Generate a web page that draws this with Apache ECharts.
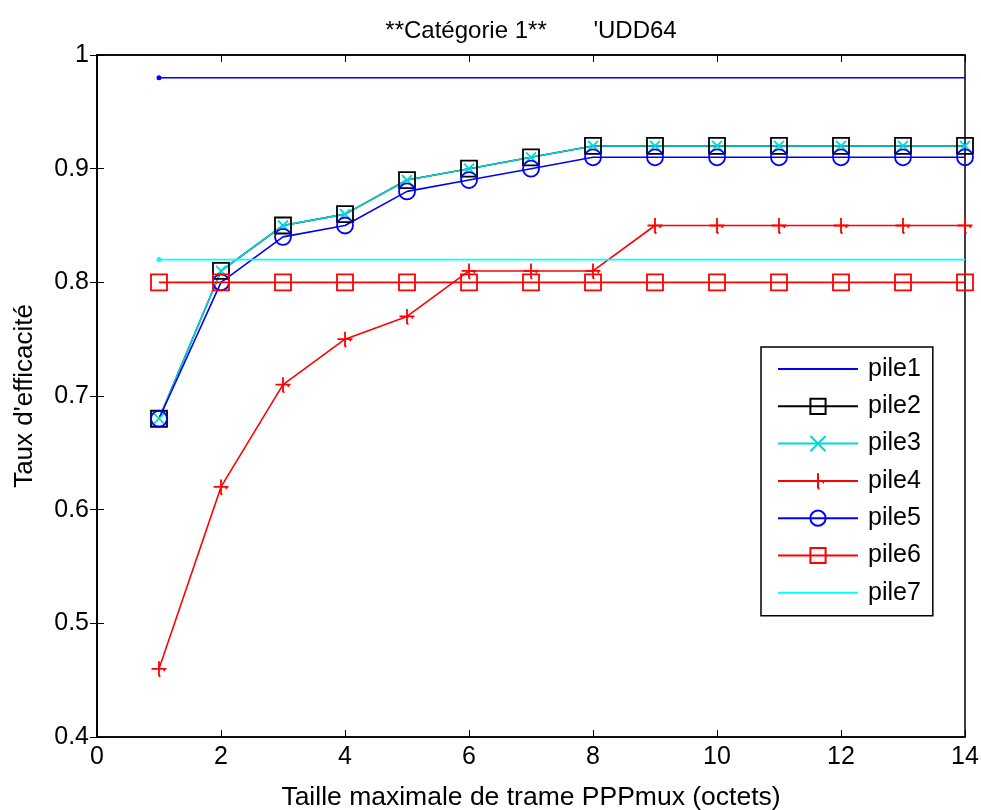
<!DOCTYPE html>
<html><head><meta charset="utf-8">
<script src="https://cdn.jsdelivr.net/npm/echarts@6/dist/echarts.min.js"></script>
<style>html,body{margin:0;padding:0;background:#fff}#c{width:981px;height:810px}</style>
</head><body><div id="c"></div>
<script>
const xValues = [1,2,3,4,5,6,7,8,9,10,11,12,13,14];
const pile1 = [0.98,0.98,0.98,0.98,0.98,0.98,0.98,0.98,0.98,0.98,0.98,0.98,0.98,0.98];
const pile2 = [0.68,0.81,0.85,0.86,0.89,0.90,0.91,0.92,0.92,0.92,0.92,0.92,0.92,0.92];
const pile3 = [0.68,0.81,0.85,0.86,0.89,0.90,0.91,0.92,0.92,0.92,0.92,0.92,0.92,0.92];
const pile4 = [0.46,0.62,0.71,0.75,0.77,0.81,0.81,0.81,0.85,0.85,0.85,0.85,0.85,0.85];
const pile5 = [0.68,0.80,0.84,0.85,0.88,0.89,0.90,0.91,0.91,0.91,0.91,0.91,0.91,0.91];
const pile6 = [0.80,0.80,0.80,0.80,0.80,0.80,0.80,0.80,0.80,0.80,0.80,0.80,0.80,0.80];
const pile7 = [0.82,0.82,0.82,0.82,0.82,0.82,0.82,0.82,0.82,0.82,0.82,0.82,0.82,0.82];
const seriesNames = ['pile1','pile2','pile3','pile4','pile5','pile6','pile7'];
const xTicks = {min:0, max:14, interval:2};
const yTicks = {min:0.4, max:1.0, interval:0.1};

const FONT = 'Liberation Sans, Arial, sans-serif';
const SQ = 'path://M0,0L10,0L10,10L0,10Z';
const PLUS = 'path://M0,5L10,5M5,0L5,10M5,10L6,10M8,6L9,6';
const CROSS = 'path://M0,0L10,10M10,0L0,10';
const NONE = 'rgba(0,0,0,0)';

function pts(vals, firstDot, dotColor){
  return vals.map((v,i)=>{
    if (i===0 && firstDot) return {value:[xValues[i], v], symbol:'circle', symbolSize:5, itemStyle:{color:dotColor, borderWidth:0}};
    return [xValues[i], v];
  });
}
function mk(name, vals, color, symbol, size, firstDot){
  const plain = !symbol;
  return {
    name, type:'line', data: pts(vals, firstDot, color),
    symbol: plain ? 'circle' : symbol, symbolSize: plain ? 1 : size,
    showSymbol: true,
    lineStyle:{color, width:1.6},
    itemStyle: plain ? {color:NONE, borderColor:NONE, borderWidth:0}
                     : {color:NONE, borderColor:color, borderWidth:1.8},
    emphasis:{disabled:true}, animation:false
  };
}

const chart = echarts.init(document.getElementById('c'), null, {renderer:'canvas'});
chart.setOption({
  backgroundColor:'#fff',
  animation:false,
  title:{text:"**Catégorie 1**       'UDD64", left:526, textAlign:'center', top:14,
    textStyle:{fontFamily:FONT, fontSize:24, fontWeight:'normal', color:'#000'}},
  grid:{left:97, top:55, right:16, bottom:73, show:true, borderColor:'#000', borderWidth:1.5,
    backgroundColor:'#fff', containLabel:false, outerBoundsMode:'none'},
  xAxis:[{type:'value', min:xTicks.min, max:xTicks.max, interval:xTicks.interval,
    name:'Taille maximale de trame PPPmux (octets)', nameLocation:'middle', nameGap:47,
    nameTextStyle:{fontFamily:FONT, fontSize:26.5, color:'#000'},
    axisLine:{show:true, lineStyle:{color:'#000', width:1.5}},
    axisTick:{inside:true, length:7, lineStyle:{color:'#000'}},
    axisLabel:{fontFamily:FONT, fontSize:25, color:'#000', margin:8},
    splitLine:{show:false}},
   {type:'value', position:'top', min:xTicks.min, max:xTicks.max, interval:xTicks.interval,
    axisLine:{show:true, lineStyle:{color:'#000', width:1.5}},
    axisTick:{inside:true, length:7, lineStyle:{color:'#000'}},
    axisLabel:{show:false}, splitLine:{show:false}}],
  yAxis:[{type:'value', min:yTicks.min, max:yTicks.max, interval:yTicks.interval,
    name:"Taux d'efficacité", nameLocation:'middle', nameGap:59,
    nameTextStyle:{fontFamily:FONT, fontSize:26, color:'#000'},
    axisLine:{show:true, lineStyle:{color:'#000', width:1.5}},
    axisTick:{inside:true, length:7, lineStyle:{color:'#000'}},
    axisLabel:{fontFamily:FONT, fontSize:25, color:'#000', margin:8,
      formatter:v=>String(Math.round(v*10)/10)},
    splitLine:{show:false}},
   {type:'value', position:'right', min:yTicks.min, max:yTicks.max, interval:yTicks.interval,
    axisLine:{show:true, lineStyle:{color:'#000', width:1.5}},
    axisTick:{inside:true, length:7, lineStyle:{color:'#000'}},
    axisLabel:{show:false}, splitLine:{show:false}}],
  legend:{orient:'vertical', left:761, top:347, data:seriesNames,
    itemWidth:80, itemHeight:19, itemGap:9.3, padding:[8,12,9,16],
    backgroundColor:'#fff', borderColor:'#000', borderWidth:1.5, borderRadius:0,
    textStyle:{fontFamily:FONT, fontSize:25, color:'#000', lineHeight:28, padding:[0,0,0,5]},
    selectedMode:false},
  series:[
    mk('pile1', pile1, '#0000ff', null, 0, true),
    mk('pile2', pile2, '#000000', SQ, 16, false),
    mk('pile3', pile3, '#00d8d8', CROSS, 10, false),
    mk('pile4', pile4, '#ff0000', PLUS, 15, false),
    mk('pile5', pile5, '#0000ff', 'circle', 16, false),
    mk('pile6', pile6, '#ff0000', SQ, 16, false),
    mk('pile7', pile7, '#00ffff', null, 0, true)
  ]
});
</script></body></html>
